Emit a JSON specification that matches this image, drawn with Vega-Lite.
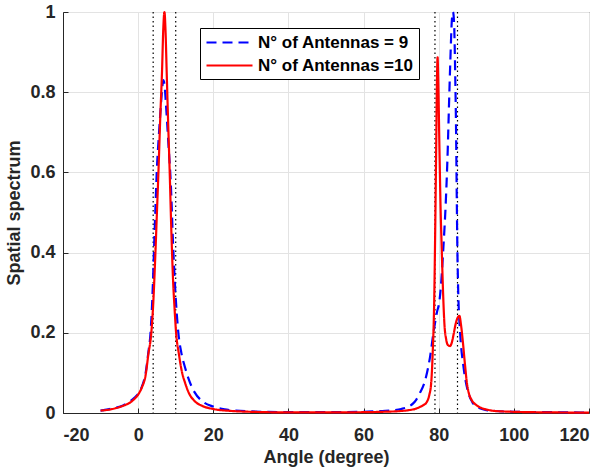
{
  "$schema": "https://vega.github.io/schema/vega-lite/v6.json",
  "width": 526,
  "height": 401,
  "autosize": {"type": "none"},
  "padding": {"left": 63, "top": 12, "right": 15, "bottom": 59},
  "background": "white",
  "config": {
    "font": "Liberation Sans",
    "view": {"stroke": "#262626", "strokeWidth": 1},
    "axis": {
      "gridColor": "#e3e3e3",
      "gridWidth": 1,
      "domainColor": "#262626",
      "tickColor": "#262626",
      "labelColor": "#262626",
      "titleColor": "#262626",
      "labelFont": "Liberation Sans",
      "titleFont": "Liberation Sans",
      "labelFontSize": 18,
      "labelFontWeight": "bold",
      "titleFontSize": 18,
      "titleFontWeight": "bold",
      "tickSize": -5
    },
    "legend": {
      "labelFont": "Liberation Sans",
      "labelFontSize": 17,
      "labelFontWeight": "bold",
      "labelColor": "#000000"
    }
  },
  "layer": [
    {
      "data": {"values": [{"angle": 4}, {"angle": 10}, {"angle": 79}, {"angle": 85}]},
      "mark": {"type": "rule", "color": "#000000", "strokeWidth": 1.2, "strokeDash": [1.5, 3]},
      "encoding": {
        "x": {"field": "angle", "type": "quantitative", "scale": {"domain": [-20, 120], "nice": false}}
      }
    },
    {
      "data": {"values": [
        {"angle": -10, "spectrum": 0.006, "series": "N° of Antennas = 9"},
        {"angle": -8, "spectrum": 0.009, "series": "N° of Antennas = 9"},
        {"angle": -6, "spectrum": 0.013, "series": "N° of Antennas = 9"},
        {"angle": -4, "spectrum": 0.019, "series": "N° of Antennas = 9"},
        {"angle": -2, "spectrum": 0.03, "series": "N° of Antennas = 9"},
        {"angle": -1, "spectrum": 0.038, "series": "N° of Antennas = 9"},
        {"angle": 0, "spectrum": 0.048, "series": "N° of Antennas = 9"},
        {"angle": 1, "spectrum": 0.066, "series": "N° of Antennas = 9"},
        {"angle": 2, "spectrum": 0.1, "series": "N° of Antennas = 9"},
        {"angle": 2.7, "spectrum": 0.15, "series": "N° of Antennas = 9"},
        {"angle": 3.3, "spectrum": 0.2, "series": "N° of Antennas = 9"},
        {"angle": 3.8, "spectrum": 0.29, "series": "N° of Antennas = 9"},
        {"angle": 4.2, "spectrum": 0.4, "series": "N° of Antennas = 9"},
        {"angle": 4.6, "spectrum": 0.51, "series": "N° of Antennas = 9"},
        {"angle": 4.95, "spectrum": 0.6, "series": "N° of Antennas = 9"},
        {"angle": 5.5, "spectrum": 0.69, "series": "N° of Antennas = 9"},
        {"angle": 6, "spectrum": 0.76, "series": "N° of Antennas = 9"},
        {"angle": 6.4, "spectrum": 0.81, "series": "N° of Antennas = 9"},
        {"angle": 6.7, "spectrum": 0.83, "series": "N° of Antennas = 9"},
        {"angle": 7, "spectrum": 0.82, "series": "N° of Antennas = 9"},
        {"angle": 7.4, "spectrum": 0.77, "series": "N° of Antennas = 9"},
        {"angle": 8, "spectrum": 0.68, "series": "N° of Antennas = 9"},
        {"angle": 8.7, "spectrum": 0.57, "series": "N° of Antennas = 9"},
        {"angle": 9.3, "spectrum": 0.42, "series": "N° of Antennas = 9"},
        {"angle": 9.8, "spectrum": 0.32, "series": "N° of Antennas = 9"},
        {"angle": 10.3, "spectrum": 0.245, "series": "N° of Antennas = 9"},
        {"angle": 10.7, "spectrum": 0.2, "series": "N° of Antennas = 9"},
        {"angle": 11.5, "spectrum": 0.15, "series": "N° of Antennas = 9"},
        {"angle": 12.5, "spectrum": 0.113, "series": "N° of Antennas = 9"},
        {"angle": 13.5, "spectrum": 0.083, "series": "N° of Antennas = 9"},
        {"angle": 15, "spectrum": 0.052, "series": "N° of Antennas = 9"},
        {"angle": 17, "spectrum": 0.03, "series": "N° of Antennas = 9"},
        {"angle": 20, "spectrum": 0.016, "series": "N° of Antennas = 9"},
        {"angle": 23, "spectrum": 0.009, "series": "N° of Antennas = 9"},
        {"angle": 26, "spectrum": 0.006, "series": "N° of Antennas = 9"},
        {"angle": 30, "spectrum": 0.004, "series": "N° of Antennas = 9"},
        {"angle": 40, "spectrum": 0.002, "series": "N° of Antennas = 9"},
        {"angle": 50, "spectrum": 0.002, "series": "N° of Antennas = 9"},
        {"angle": 60, "spectrum": 0.003, "series": "N° of Antennas = 9"},
        {"angle": 65, "spectrum": 0.005, "series": "N° of Antennas = 9"},
        {"angle": 68, "spectrum": 0.007, "series": "N° of Antennas = 9"},
        {"angle": 70, "spectrum": 0.01, "series": "N° of Antennas = 9"},
        {"angle": 72, "spectrum": 0.016, "series": "N° of Antennas = 9"},
        {"angle": 73.2, "spectrum": 0.024, "series": "N° of Antennas = 9"},
        {"angle": 74, "spectrum": 0.033, "series": "N° of Antennas = 9"},
        {"angle": 75, "spectrum": 0.05, "series": "N° of Antennas = 9"},
        {"angle": 76.4, "spectrum": 0.082, "series": "N° of Antennas = 9"},
        {"angle": 77.7, "spectrum": 0.14, "series": "N° of Antennas = 9"},
        {"angle": 78.6, "spectrum": 0.2, "series": "N° of Antennas = 9"},
        {"angle": 79.5, "spectrum": 0.25, "series": "N° of Antennas = 9"},
        {"angle": 80.2, "spectrum": 0.28, "series": "N° of Antennas = 9"},
        {"angle": 80.7, "spectrum": 0.33, "series": "N° of Antennas = 9"},
        {"angle": 81.2, "spectrum": 0.406, "series": "N° of Antennas = 9"},
        {"angle": 81.9, "spectrum": 0.53, "series": "N° of Antennas = 9"},
        {"angle": 82.4, "spectrum": 0.656, "series": "N° of Antennas = 9"},
        {"angle": 82.7, "spectrum": 0.756, "series": "N° of Antennas = 9"},
        {"angle": 83.1, "spectrum": 0.88, "series": "N° of Antennas = 9"},
        {"angle": 83.5, "spectrum": 0.98, "series": "N° of Antennas = 9"},
        {"angle": 83.8, "spectrum": 1.0, "series": "N° of Antennas = 9"},
        {"angle": 84.1, "spectrum": 0.97, "series": "N° of Antennas = 9"},
        {"angle": 84.4, "spectrum": 0.84, "series": "N° of Antennas = 9"},
        {"angle": 84.6, "spectrum": 0.72, "series": "N° of Antennas = 9"},
        {"angle": 84.8, "spectrum": 0.54, "series": "N° of Antennas = 9"},
        {"angle": 84.95, "spectrum": 0.42, "series": "N° of Antennas = 9"},
        {"angle": 85.2, "spectrum": 0.3, "series": "N° of Antennas = 9"},
        {"angle": 85.7, "spectrum": 0.2, "series": "N° of Antennas = 9"},
        {"angle": 86.6, "spectrum": 0.115, "series": "N° of Antennas = 9"},
        {"angle": 87.9, "spectrum": 0.05, "series": "N° of Antennas = 9"},
        {"angle": 89, "spectrum": 0.026, "series": "N° of Antennas = 9"},
        {"angle": 90.1, "spectrum": 0.016, "series": "N° of Antennas = 9"},
        {"angle": 92.8, "spectrum": 0.007, "series": "N° of Antennas = 9"},
        {"angle": 95, "spectrum": 0.005, "series": "N° of Antennas = 9"},
        {"angle": 100, "spectrum": 0.003, "series": "N° of Antennas = 9"},
        {"angle": 110, "spectrum": 0.002, "series": "N° of Antennas = 9"},
        {"angle": 120, "spectrum": 0.001, "series": "N° of Antennas = 9"},
        {"angle": -10, "spectrum": 0.006, "series": "N° of Antennas =10"},
        {"angle": -8, "spectrum": 0.008, "series": "N° of Antennas =10"},
        {"angle": -6, "spectrum": 0.012, "series": "N° of Antennas =10"},
        {"angle": -4, "spectrum": 0.018, "series": "N° of Antennas =10"},
        {"angle": -2, "spectrum": 0.027, "series": "N° of Antennas =10"},
        {"angle": -1, "spectrum": 0.035, "series": "N° of Antennas =10"},
        {"angle": 0, "spectrum": 0.046, "series": "N° of Antennas =10"},
        {"angle": 1, "spectrum": 0.064, "series": "N° of Antennas =10"},
        {"angle": 2, "spectrum": 0.095, "series": "N° of Antennas =10"},
        {"angle": 2.7, "spectrum": 0.145, "series": "N° of Antennas =10"},
        {"angle": 3.5, "spectrum": 0.2, "series": "N° of Antennas =10"},
        {"angle": 4, "spectrum": 0.27, "series": "N° of Antennas =10"},
        {"angle": 4.6, "spectrum": 0.4, "series": "N° of Antennas =10"},
        {"angle": 5, "spectrum": 0.5, "series": "N° of Antennas =10"},
        {"angle": 5.4, "spectrum": 0.6, "series": "N° of Antennas =10"},
        {"angle": 5.9, "spectrum": 0.74, "series": "N° of Antennas =10"},
        {"angle": 6.35, "spectrum": 0.85, "series": "N° of Antennas =10"},
        {"angle": 6.7, "spectrum": 0.96, "series": "N° of Antennas =10"},
        {"angle": 7, "spectrum": 1.0, "series": "N° of Antennas =10"},
        {"angle": 7.3, "spectrum": 0.95, "series": "N° of Antennas =10"},
        {"angle": 7.6, "spectrum": 0.85, "series": "N° of Antennas =10"},
        {"angle": 8, "spectrum": 0.72, "series": "N° of Antennas =10"},
        {"angle": 8.4, "spectrum": 0.6, "series": "N° of Antennas =10"},
        {"angle": 8.85, "spectrum": 0.45, "series": "N° of Antennas =10"},
        {"angle": 9.3, "spectrum": 0.33, "series": "N° of Antennas =10"},
        {"angle": 9.7, "spectrum": 0.26, "series": "N° of Antennas =10"},
        {"angle": 10.1, "spectrum": 0.2, "series": "N° of Antennas =10"},
        {"angle": 10.8, "spectrum": 0.15, "series": "N° of Antennas =10"},
        {"angle": 11.6, "spectrum": 0.105, "series": "N° of Antennas =10"},
        {"angle": 12.5, "spectrum": 0.075, "series": "N° of Antennas =10"},
        {"angle": 13.5, "spectrum": 0.05, "series": "N° of Antennas =10"},
        {"angle": 15, "spectrum": 0.03, "series": "N° of Antennas =10"},
        {"angle": 17, "spectrum": 0.018, "series": "N° of Antennas =10"},
        {"angle": 20, "spectrum": 0.01, "series": "N° of Antennas =10"},
        {"angle": 25, "spectrum": 0.005, "series": "N° of Antennas =10"},
        {"angle": 30, "spectrum": 0.003, "series": "N° of Antennas =10"},
        {"angle": 40, "spectrum": 0.0015, "series": "N° of Antennas =10"},
        {"angle": 50, "spectrum": 0.0015, "series": "N° of Antennas =10"},
        {"angle": 60, "spectrum": 0.002, "series": "N° of Antennas =10"},
        {"angle": 65, "spectrum": 0.003, "series": "N° of Antennas =10"},
        {"angle": 70, "spectrum": 0.005, "series": "N° of Antennas =10"},
        {"angle": 72, "spectrum": 0.007, "series": "N° of Antennas =10"},
        {"angle": 74, "spectrum": 0.011, "series": "N° of Antennas =10"},
        {"angle": 75, "spectrum": 0.015, "series": "N° of Antennas =10"},
        {"angle": 76, "spectrum": 0.02, "series": "N° of Antennas =10"},
        {"angle": 76.8, "spectrum": 0.027, "series": "N° of Antennas =10"},
        {"angle": 77.5, "spectrum": 0.045, "series": "N° of Antennas =10"},
        {"angle": 78, "spectrum": 0.075, "series": "N° of Antennas =10"},
        {"angle": 78.4, "spectrum": 0.15, "series": "N° of Antennas =10"},
        {"angle": 78.8, "spectrum": 0.28, "series": "N° of Antennas =10"},
        {"angle": 79.1, "spectrum": 0.48, "series": "N° of Antennas =10"},
        {"angle": 79.35, "spectrum": 0.68, "series": "N° of Antennas =10"},
        {"angle": 79.55, "spectrum": 0.84, "series": "N° of Antennas =10"},
        {"angle": 79.7, "spectrum": 0.887, "series": "N° of Antennas =10"},
        {"angle": 79.85, "spectrum": 0.84, "series": "N° of Antennas =10"},
        {"angle": 80.2, "spectrum": 0.656, "series": "N° of Antennas =10"},
        {"angle": 80.5, "spectrum": 0.51, "series": "N° of Antennas =10"},
        {"angle": 80.8, "spectrum": 0.41, "series": "N° of Antennas =10"},
        {"angle": 81.2, "spectrum": 0.29, "series": "N° of Antennas =10"},
        {"angle": 81.5, "spectrum": 0.225, "series": "N° of Antennas =10"},
        {"angle": 82, "spectrum": 0.183, "series": "N° of Antennas =10"},
        {"angle": 82.5, "spectrum": 0.169, "series": "N° of Antennas =10"},
        {"angle": 83, "spectrum": 0.167, "series": "N° of Antennas =10"},
        {"angle": 83.5, "spectrum": 0.176, "series": "N° of Antennas =10"},
        {"angle": 84, "spectrum": 0.198, "series": "N° of Antennas =10"},
        {"angle": 84.5, "spectrum": 0.222, "series": "N° of Antennas =10"},
        {"angle": 85, "spectrum": 0.237, "series": "N° of Antennas =10"},
        {"angle": 85.5, "spectrum": 0.242, "series": "N° of Antennas =10"},
        {"angle": 86, "spectrum": 0.215, "series": "N° of Antennas =10"},
        {"angle": 86.4, "spectrum": 0.18, "series": "N° of Antennas =10"},
        {"angle": 87, "spectrum": 0.12, "series": "N° of Antennas =10"},
        {"angle": 87.5, "spectrum": 0.075, "series": "N° of Antennas =10"},
        {"angle": 88, "spectrum": 0.05, "series": "N° of Antennas =10"},
        {"angle": 88.8, "spectrum": 0.032, "series": "N° of Antennas =10"},
        {"angle": 90, "spectrum": 0.02, "series": "N° of Antennas =10"},
        {"angle": 91, "spectrum": 0.014, "series": "N° of Antennas =10"},
        {"angle": 93, "spectrum": 0.008, "series": "N° of Antennas =10"},
        {"angle": 95, "spectrum": 0.005, "series": "N° of Antennas =10"},
        {"angle": 100, "spectrum": 0.003, "series": "N° of Antennas =10"},
        {"angle": 110, "spectrum": 0.0015, "series": "N° of Antennas =10"},
        {"angle": 120, "spectrum": 0.001, "series": "N° of Antennas =10"}
      ]},
      "mark": {"type": "line", "interpolate": "monotone", "strokeWidth": 2.2},
      "encoding": {
        "x": {
          "field": "angle", "type": "quantitative",
          "scale": {"domain": [-20, 120], "nice": false},
          "axis": {"title": "Angle (degree)", "values": [-20, 0, 20, 40, 60, 80, 100, 120], "labelExpr": "'' + datum.value", "labelPadding": 18, "titlePadding": 4}
        },
        "y": {
          "field": "spectrum", "type": "quantitative",
          "scale": {"domain": [0, 1], "nice": false},
          "axis": {"title": "Spatial spectrum", "values": [0, 0.2, 0.4, 0.6, 0.8, 1], "format": "~g", "labelPadding": 13, "titlePadding": 6}
        },
        "color": {
          "field": "series", "type": "nominal",
          "scale": {"domain": ["N° of Antennas = 9", "N° of Antennas =10"], "range": ["#0000ff", "#ff0000"]},
          "legend": {
            "title": null, "orient": "none", "legendX": 137, "legendY": 16,
            "symbolType": "M-1,0H4.75", "symbolSize": 256, "symbolStrokeWidth": 2.2,
            "labelOffset": 34, "rowPadding": 5, "padding": 5,
            "strokeColor": "#000000", "fillColor": "#ffffff"
          }
        },
        "strokeDash": {
          "field": "series", "type": "nominal",
          "scale": {"domain": ["N° of Antennas = 9", "N° of Antennas =10"], "range": [[10, 6], [1, 0]]},
          "legend": {
            "title": null, "orient": "none", "legendX": 137, "legendY": 16,
            "symbolType": "M-1,0H4.75", "symbolSize": 256, "symbolStrokeWidth": 2.2,
            "labelOffset": 34, "rowPadding": 5, "padding": 5,
            "strokeColor": "#000000", "fillColor": "#ffffff"
          }
        }
      }
    }
  ]
}
